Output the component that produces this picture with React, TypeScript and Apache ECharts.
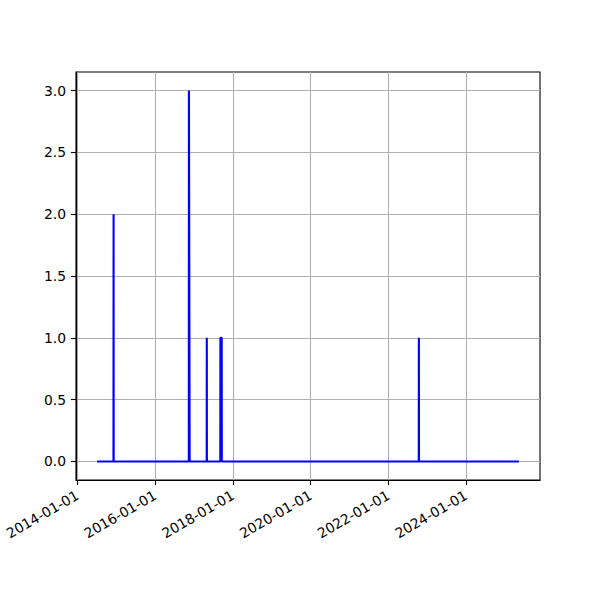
import React, { useEffect, useRef } from "react";
import * as echarts from "echarts";

// Observation dates around the non-zero events and their values
const dates = [
  "2014-07-05",
  "2014-12-06", "2014-12-07", "2014-12-08",
  "2016-11-13", "2016-11-14", "2016-11-20", "2016-11-21",
  "2017-04-30", "2017-05-01", "2017-05-02",
  "2017-09-05", "2017-09-06", "2017-09-18", "2017-09-19",
  "2022-10-14", "2022-10-15", "2022-10-16",
  "2025-05-12",
];
const values = [0, 0, 2, 0, 0, 3, 3, 0, 0, 1, 0, 0, 1, 1, 0, 0, 1, 0, 0];

const xTickLabels = ["2014-01-01", "2016-01-01", "2018-01-01", "2020-01-01", "2022-01-01", "2024-01-01"];
const yTicks = [0, 0.5, 1, 1.5, 2, 2.5, 3];

const ts = (s: string) => {
  const [y, m, d] = s.split("-").map(Number);
  return Date.UTC(y, m - 1, d);
};
const pad = (n: number) => (n < 10 ? "0" + n : "" + n);
const fmtDate = (v: number) => {
  const d = new Date(v);
  return `${d.getUTCFullYear()}-${pad(d.getUTCMonth() + 1)}-${pad(d.getUTCDate())}`;
};

export default function App() {
  const ref = useRef<HTMLDivElement>(null);
  useEffect(() => {
    document.body.style.margin = "0";
    if (!ref.current) return;
    const chart = echarts.init(ref.current, undefined, { renderer: "svg" });
    const xs = dates.map(ts);
    const xMinD = Math.min(...xs), xMaxD = Math.max(...xs);
    const xSpan = xMaxD - xMinD;
    const yMinD = Math.min(...values), yMaxD = Math.max(...values);
    const ySpan = yMaxD - yMinD;
    const xTickVals = xTickLabels.map(ts);
    const font = "DejaVu Sans";
    chart.setOption({
      animation: false,
      backgroundColor: "#ffffff",
      grid: {
        left: 76, right: 60, top: 72, bottom: 120,
        show: true, borderColor: "#000", borderWidth: 1.1,
        backgroundColor: "transparent",
      },
      xAxis: {
        type: "value",
        min: xMinD - 0.05 * xSpan,
        max: xMaxD + 0.05 * xSpan,
        axisLine: { show: true, onZero: false, lineStyle: { color: "#000", width: 1.1 } },
        axisTick: { show: true, length: 5, customValues: xTickVals, lineStyle: { color: "#000", width: 1.1 } },
        axisLabel: {
          customValues: xTickVals,
          formatter: (v: number) => fmtDate(v),
          rotate: 30, fontSize: 13.9, color: "#000", fontFamily: font, margin: 14,
        },
        splitLine: { show: true, lineStyle: { color: "#b0b0b0", width: 1.1 } },
      },
      yAxis: {
        type: "value",
        min: yMinD - 0.05 * ySpan,
        max: yMaxD + 0.05 * ySpan,
        axisLine: { show: true, onZero: false, lineStyle: { color: "#000", width: 1.1 } },
        axisTick: { show: true, length: 5, customValues: yTicks, lineStyle: { color: "#000", width: 1.1 } },
        axisLabel: {
          customValues: yTicks,
          formatter: (v: number) => v.toFixed(1),
          fontSize: 13.9, color: "#000", fontFamily: font, margin: 10,
        },
        splitLine: { show: true, lineStyle: { color: "#b0b0b0", width: 1.1 } },
      },
      series: [
        {
          type: "line",
          data: xs.map((x, i) => [x, values[i]]),
          symbol: "none",
          showSymbol: false,
          lineStyle: { color: "#0000ff", width: 2.1 },
          itemStyle: { color: "#0000ff" },
        },
      ],
    });
    return () => chart.dispose();
  }, []);
  return <div ref={ref} style={{ width: 600, height: 600 }} />;
}
